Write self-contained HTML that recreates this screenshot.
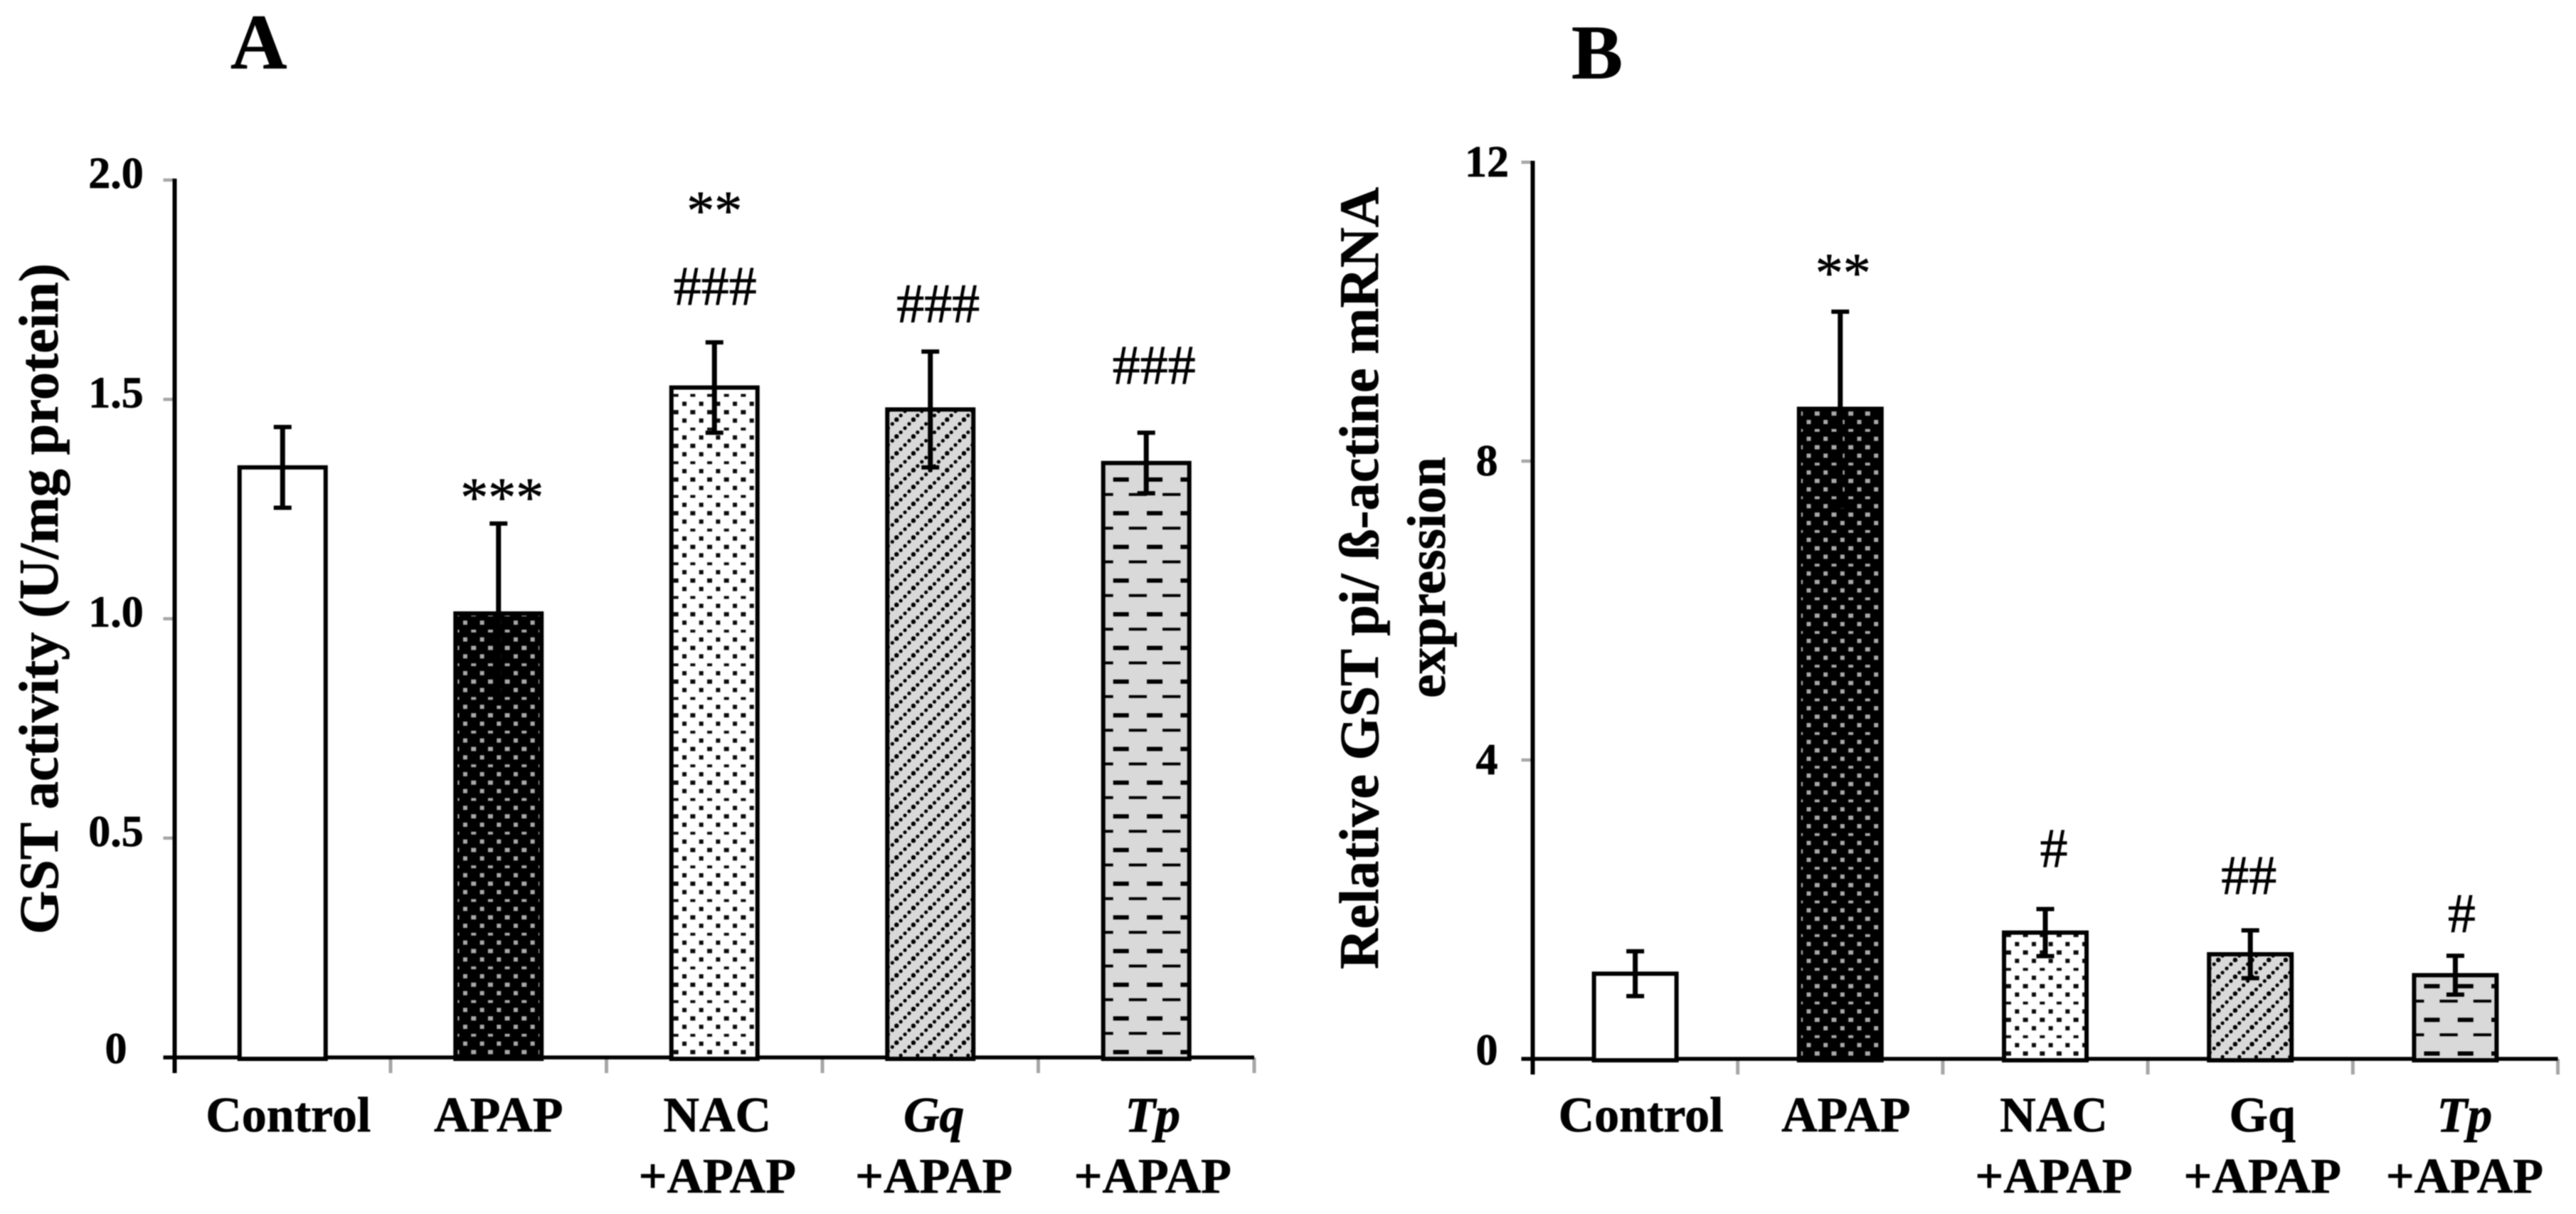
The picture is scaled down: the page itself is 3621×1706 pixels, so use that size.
<!DOCTYPE html>
<html lang="en">
<head>
<meta charset="utf-8">
<title>GST activity and GST pi expression bar charts</title>
<style>
html,body{margin:0;padding:0;background:#fff;}
svg{display:block;filter:blur(0.7px);}
text{font-family:"Liberation Serif","Times New Roman",serif;fill:#000;stroke:#000;stroke-width:0.7px;}
.bold{font-weight:bold;}
</style>
</head>
<body>
<svg id="figure" xmlns="http://www.w3.org/2000/svg" width="3621" height="1706" viewBox="0 0 3621 1706">
<rect x="0" y="0" width="3621" height="1706" fill="#ffffff"/>
<defs id="defs"></defs>
<text class="bold" x="324" y="96" font-size="110">A</text>
<text class="bold" x="2209" y="110" font-size="108">B</text>
<text class="bold" transform="translate(81,1313) rotate(-90)" font-size="78" textLength="943" lengthAdjust="spacingAndGlyphs">GST activity (U/mg protein)</text>
<text class="bold" transform="translate(1937,1362) rotate(-90)" font-size="78" textLength="1099" lengthAdjust="spacingAndGlyphs">Relative GST pi/ ß-actine mRNA</text>
<text class="bold" transform="translate(2031,981) rotate(-90)" font-size="76" textLength="339" lengthAdjust="spacingAndGlyphs">expression</text>
<g id="chart-a"></g>
<g id="chart-b"></g>
</svg>
<script>
const categoriesA = ['Control', 'APAP', 'NAC+APAP', 'Gq+APAP', 'Tp+APAP'];
const italicA = [false, false, false, true, true];
const valuesA = [1.345, 1.012, 1.527, 1.477, 1.355];
const errorsA = [0.092, 0.205, 0.103, 0.132, 0.069];
const tickValuesA = [0, 0.5, 1, 1.5, 2];
const tickLabelsA = ['0', '0.5', '1.0', '1.5', '2.0'];

const categoriesB = ['Control', 'APAP', 'NAC+APAP', 'Gq+APAP', 'Tp+APAP'];
const italicB = [false, false, false, false, true];
const valuesB = [1.14, 8.7, 1.69, 1.4, 1.12];
const errorsB = [0.30, 1.30, 0.315, 0.32, 0.26];
const tickValuesB = [0, 4, 8, 12];
const tickLabelsB = ['0', '4', '8', '12'];

const patternKinds = ['plain', 'darkDots', 'lightDots', 'diagonal', 'dashes'];

const SVGNS = 'http://www.w3.org/2000/svg';
const defs = document.getElementById('defs');

function make(tag, attrs, parent) {
  const el = document.createElementNS(SVGNS, tag);
  for (const k in attrs) el.setAttribute(k, attrs[k]);
  if (parent) parent.appendChild(el);
  return el;
}

function buildPattern(kind, id, left, baseline) {
  const T = 47.33;
  if (kind === 'plain') return '#ffffff';
  const small = kind === 'diagonal';
  const size = small ? T / 2 : T;
  let px = left, py = baseline;
  if (kind === 'lightDots') { px = left + 12.4; py = baseline - 22.3; }
  if (kind === 'darkDots') { px = left + 7.8; py = baseline + 1.3; }
  if (kind === 'diagonal') { px = left + 10; py = baseline + 6; }
  if (kind === 'dashes') { px = left + 14; py = baseline - 10.5; }
  const p = make('pattern', { id: id, patternUnits: 'userSpaceOnUse', x: px, y: py, width: size, height: size }, defs);
  if (kind === 'lightDots' || kind === 'darkDots') {
    const bg = kind === 'lightDots' ? '#ffffff' : '#000000';
    const fg = kind === 'lightDots' ? '#0c0c0c' : '#a8a8a8';
    make('rect', { x: 0, y: 0, width: T, height: T, fill: bg }, p);
    const rowY = [3, 14.8, 26.6, 38.5];
    const rowH = kind === 'lightDots' ? [6, 6, 6, 4] : [6, 4, 6, 6];
    const rowW = [6, 7, 6, 7];
    const rowX = [5.9, 17.7, 5.9, 17.7];
    for (let r = 0; r < 4; r++) {
      for (let c = 0; c < 2; c++) {
        make('rect', {
          x: rowX[r] + c * T / 2 - rowW[r] / 2,
          y: rowY[r] - rowH[r] / 2,
          width: rowW[r],
          height: rowH[r],
          fill: fg
        }, p);
      }
    }
  } else if (kind === 'diagonal') {
    make('rect', { x: 0, y: 0, width: size, height: size, fill: '#d9d9d9' }, p);
    const s = size / 4;
    for (let d = 0; d < 4; d++) {
      make('circle', { cx: 3 + d * s, cy: size - 3 - d * s, r: d === 0 ? 3.3 : 2.6, fill: '#000000' }, p);
    }
  } else if (kind === 'dashes') {
    make('rect', { x: 0, y: 0, width: T, height: T, fill: '#d9d9d9' }, p);
    make('rect', { x: 0, y: 0, width: 22, height: 6, fill: '#000000' }, p);
    make('rect', { x: 22, y: 22, width: 25.3, height: 4, fill: '#000000' }, p);
  }
  return 'url(#' + id + ')';
}

function drawChart(c) {
  const g = document.getElementById(c.id);
  const x = function (i) { return c.x0 + c.step * (i + 0.5); };
  const y = function (v) { return c.yZero - c.yScale * v; };
  const n = c.categories.length;
  const xEnd = c.x0 + c.step * n;

  // grey ticks on x axis
  for (let i = 1; i <= n; i++) {
    const tick = make('rect', { x: c.x0 + c.step * i - 2.5, y: c.yZero, width: 5, height: 22, fill: '#a6a6a6' }, g);
    
    
  }

  // y ticks and labels
  c.tickValues.forEach(function (v, i) {
    const tick = make('rect', { x: c.x0 - 16, y: y(v) - 2.25, width: 16, height: 4.5, fill: v === 0 ? '#000000' : '#a6a6a6' }, g);
    
    
    const label = make('text', { x: c.tickLabelX, y: y(v) + (v === 0 ? 8 : c.tickLabelDrop), 'font-size': 62, 'font-weight': 'bold', 'text-anchor': 'middle' }, g);
    label.textContent = c.tickLabels[i];
    
    
  });

  // axes
  const yAxis = make('rect', { x: c.x0 - 3, y: y(c.yMax) - 2, width: 6, height: c.yZero + 22 - y(c.yMax) + 2, fill: '#000000' }, g);
  
  
  const xAxis = make('rect', { x: c.x0 - 16, y: c.yZero - 2.75, width: xEnd - c.x0 + 16, height: 5.5, fill: '#000000' }, g);
  
  

  // bars and error bars
  c.values.forEach(function (v, i) {
    const cx = x(i);
    const left = cx - c.barWidth / 2;
    const fill = buildPattern(patternKinds[i], c.prefix + '-fill-' + i, left, c.yZero);
    const bar = make('rect', { x: left, y: y(v), width: c.barWidth, height: c.yZero + 2 - y(v), fill: fill, stroke: '#000000', 'stroke-width': 6 }, g);
    
    

    const hi = y(v + c.errors[i]);
    const lo = y(v - c.errors[i]);
    const stem = make('rect', { x: cx - 3.5, y: hi, width: 7, height: lo - hi, fill: '#000000' }, g);
    
    
    const capTop = make('rect', { x: cx - 12.5, y: hi - 3, width: 25, height: 6, fill: '#000000' }, g);
    
    
    const capBottom = make('rect', { x: cx - 12.5, y: lo - 3, width: 25, height: 6, fill: '#000000' }, g);
    
    

    // category labels
    const parts = c.categories[i].split('+');
    const label = make('text', { x: cx + c.labelShift[i], y: 1590, 'font-size': 70, 'font-weight': 'bold', 'text-anchor': 'middle' }, g);
    if (c.italics[i]) label.setAttribute('font-style', 'italic');
    label.textContent = parts[0];
    
    
    if (parts[1]) {
      const label2 = make('text', { x: cx + c.labelShift[i], y: 1676, 'font-size': 70, 'font-weight': 'bold', 'text-anchor': 'middle' }, g);
      label2.textContent = '+' + parts[1];
      
      
    }
  });

  c.annotate = function (i, text, level, dx) {
    const mark = make('text', { x: x(i) + dx, y: y(level), 'font-size': 78, 'text-anchor': 'middle' }, g);
    mark.textContent = text;
    
    
  };
  return c;
}

const chartA = drawChart({
  id: 'chart-a', prefix: 'chart-a',
  categories: categoriesA, italics: italicA, values: valuesA, errors: errorsA,
  tickValues: tickValuesA, tickLabels: tickLabelsA,
  x0: 245.5, step: 303.5, yZero: 1486, yScale: 616.5, yMax: 2,
  barWidth: 121, tickLabelX: 163, tickLabelDrop: 11,
  labelShift: [8, 0, 4, 5, 9]
});
chartA.annotate(1, '***', 1.234, 5);
chartA.annotate(2, '**', 1.888, 0);
chartA.annotate(2, '###', 1.716, 1);
chartA.annotate(3, '###', 1.676, 11);
chartA.annotate(4, '###', 1.536, 11);

const chartB = drawChart({
  id: 'chart-b', prefix: 'chart-b',
  categories: categoriesB, italics: italicB, values: valuesB, errors: errorsB,
  tickValues: tickValuesB, tickLabels: tickLabelsB,
  x0: 2154.5, step: 288.2, yZero: 1488, yScale: 105, yMax: 12,
  barWidth: 116, tickLabelX: 2090, tickLabelDrop: 20,
  labelShift: [8, 8, 12, 17, 13]
});
chartB.annotate(1, '**', 10.27, 4);
chartB.annotate(2, '#', 2.57, 12);
chartB.annotate(3, '##', 2.21, -2);
chartB.annotate(4, '#', 1.70, 9);
</script>
</body>
</html>
